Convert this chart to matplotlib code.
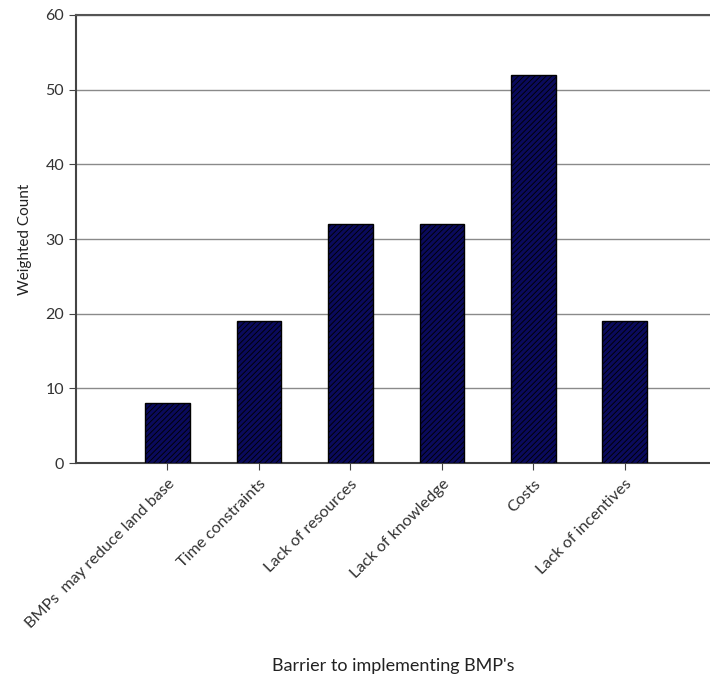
import numpy as np
import matplotlib
matplotlib.use('Agg')
import matplotlib.pyplot as plt

barriers = ['BMPs  may reduce land base', 'Time constraints', 'Lack of resources',
            'Lack of knowledge', 'Costs', 'Lack of incentives']
weighted_counts = [8, 19, 32, 32, 52, 19]

plt.rcParams['font.family'] = ['Lato', 'DejaVu Sans']
plt.rcParams['hatch.linewidth'] = 0.6

fig = plt.figure(figsize=(7.1, 6.79), dpi=100)
ax = fig.add_axes([0.107, 0.318, 0.893, 0.660])

x_values = np.arange(len(barriers))
ax.bar(x_values, weighted_counts, width=0.49, color='#0a0a5c',
       edgecolor='#000000', linewidth=1.0, hatch='//////', zorder=3)

ax.set_xlim(-1.0, 5.93)
ax.set_ylim(0, 60)
ax.set_yticks(np.arange(0, 61, 10))
ax.yaxis.grid(True, color='#8a8a8a', linewidth=1.0, zorder=0)

ax.set_xticks(x_values)
ax.set_xticklabels(barriers, rotation=45, ha='right', rotation_mode='anchor',
                   fontsize=11.7, color='#333333')
ax.tick_params(axis='y', labelsize=11.5, labelcolor='#333333', length=5, color='#444444')
ax.tick_params(axis='x', length=5, color='#444444', pad=5)

ax.spines['right'].set_visible(False)
ax.spines['top'].set_color('#555555')
ax.spines['left'].set_color('#444444')
ax.spines['bottom'].set_color('#444444')
ax.spines['left'].set_linewidth(1.5)
ax.spines['bottom'].set_linewidth(1.5)
ax.spines['top'].set_linewidth(1.5)

ax.set_ylabel('Weighted Count', fontsize=11, color='#222222', labelpad=10)
fig.text(0.554, 0.008, "Barrier to implementing BMP's", ha='center', va='bottom',
         fontsize=13, color='#222222')

plt.savefig('out.png', dpi=100)
